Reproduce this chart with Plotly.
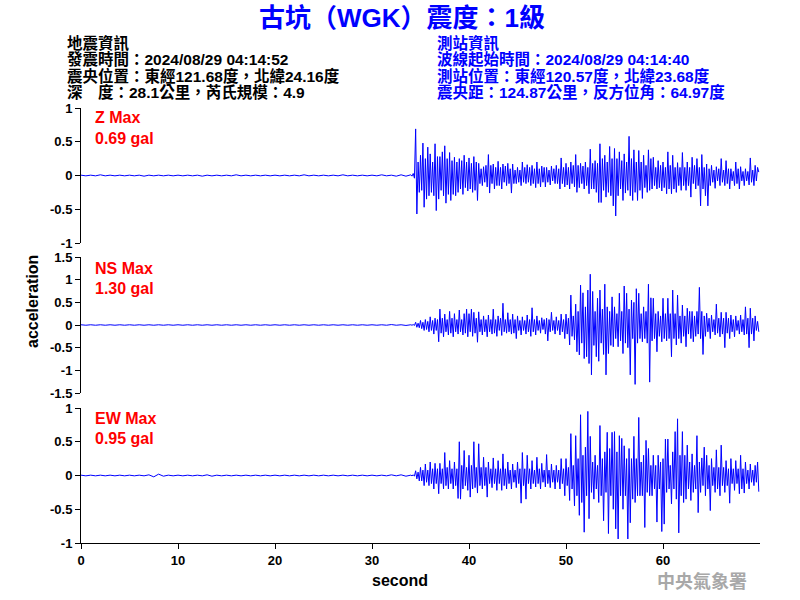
import numpy as np
import plotly.graph_objects as go

# ---------------- data ----------------
t_pre = np.arange(68) * 0.5           # 0 .. 33.5 s
t_evt = 34 + np.arange(288) * 0.125   # 34 .. 69.875 s

z_pre = [0.005,-0.005,0.005,-0.005,0.01,-0.005,0.005,-0.005,0.005,-0.005,
         0.005,-0.005,0.005,-0.01,0.005,-0.005,0.005,-0.005,0.005,-0.005,
         0.005,-0.005,0.005,-0.005,0.005,-0.01,0.005,-0.005,0.005,-0.005,
         0.005,-0.005,0.01,-0.005,0.005,-0.005,0.005,-0.005,0.005,-0.005,
         0.005,-0.005,0.005,-0.005,0.005,-0.005,0.01,-0.005,0.005,-0.005,
         0.005,-0.005,0.005,-0.005,0.01,-0.005,0.005,-0.005,0.005,-0.005,
         0.005,-0.005,0.01,-0.005,0.005,-0.01,0.01,-0.01]
z_evt = [
    0.01,-0.01,0.03,-0.04,0.69,-0.57,0.20,-0.25,
    0.30,-0.22,0.48,-0.47,0.25,-0.35,0.42,-0.30,
    0.32,-0.25,0.20,-0.30,0.47,-0.52,0.28,-0.35,
    0.28,-0.22,0.35,-0.30,0.44,-0.41,0.25,-0.28,
    0.34,-0.37,0.22,-0.28,0.27,-0.30,0.20,-0.25,
    0.25,-0.20,0.22,-0.28,0.30,-0.18,0.20,-0.23,
    0.26,-0.20,0.18,-0.25,0.28,-0.22,0.20,-0.37,
    0.18,-0.12,0.10,-0.15,0.13,-0.10,0.15,-0.17,
    0.31,-0.26,0.15,-0.12,0.17,-0.20,0.12,-0.15,
    0.21,-0.15,0.12,-0.20,0.17,-0.10,0.14,-0.15,
    0.18,-0.12,0.10,-0.26,0.17,-0.12,0.08,-0.12,
    0.12,-0.10,0.08,-0.15,0.20,-0.10,0.12,-0.12,
    0.16,-0.10,0.12,-0.15,0.15,-0.12,0.10,-0.18,
    0.20,-0.12,0.10,-0.17,0.14,-0.10,0.12,-0.17,
    0.12,-0.10,0.08,-0.14,0.14,-0.08,0.10,-0.12,
    0.15,-0.12,0.10,-0.20,0.26,-0.12,0.12,-0.17,
    0.18,-0.14,0.12,-0.20,0.20,-0.12,0.15,-0.17,
    0.31,-0.25,0.15,-0.18,0.18,-0.12,0.14,-0.20,
    0.20,-0.15,0.12,-0.27,0.39,-0.20,0.18,-0.20,
    0.22,-0.25,0.18,-0.40,0.47,-0.40,0.25,-0.22,
    0.30,-0.32,0.20,-0.25,0.43,-0.30,0.25,-0.45,
    0.40,-0.60,0.25,-0.30,0.35,-0.20,0.22,-0.37,
    0.32,-0.26,0.20,-0.22,0.58,-0.30,0.25,-0.37,
    0.38,-0.25,0.20,-0.37,0.37,-0.22,0.20,-0.34,
    0.30,-0.18,0.15,-0.25,0.38,-0.22,0.25,-0.20,
    0.27,-0.15,0.12,-0.20,0.22,-0.18,0.15,-0.23,
    0.20,-0.18,0.12,-0.27,0.35,-0.20,0.15,-0.27,
    0.30,-0.20,0.12,-0.25,0.19,-0.15,0.12,-0.22,
    0.34,-0.15,0.12,-0.22,0.20,-0.15,0.12,-0.32,
    0.27,-0.12,0.15,-0.20,0.25,-0.15,0.12,-0.45,
    0.31,-0.20,0.12,-0.30,0.17,-0.45,0.10,-0.15,
    0.15,-0.10,0.08,-0.19,0.13,-0.08,0.10,-0.15,
    0.25,-0.10,0.08,-0.15,0.22,-0.12,0.10,-0.20,
    0.10,-0.08,0.06,-0.15,0.20,-0.12,0.10,-0.20,
    0.13,-0.08,0.06,-0.15,0.10,-0.08,0.06,-0.14,
    0.26,-0.10,0.08,-0.15,0.15,-0.08,0.12,0.05]

ns_pre = [0.005,-0.005,0.005,-0.005,0.005,-0.005,0.005,-0.005,0.005,-0.005,
          0.005,-0.005,0.005,-0.005,0.005,-0.005,0.005,-0.005,0.005,-0.005,
          0.005,-0.005,0.005,-0.005,0.005,-0.005,0.005,-0.005,0.005,-0.005,
          0.005,-0.005,0.005,-0.005,0.005,-0.005,0.005,-0.005,0.005,-0.005,
          0.005,-0.005,0.005,-0.005,0.005,-0.005,0.005,-0.005,0.005,-0.005,
          0.005,-0.005,0.005,-0.005,0.005,-0.005,0.005,-0.005,0.005,-0.005,
          0.005,-0.005,0.005,-0.005,0.01,-0.005,0.005,-0.01]
ns_evt = [
    0.005,-0.005,0.01,-0.01,0.06,-0.05,0.04,-0.06,
    0.10,-0.08,0.06,-0.12,0.12,-0.10,0.08,-0.15,
    0.18,-0.12,0.10,-0.20,0.15,-0.12,0.12,-0.37,
    0.35,-0.18,0.15,-0.26,0.24,-0.15,0.12,-0.22,
    0.30,-0.18,0.15,-0.26,0.25,-0.15,0.12,-0.20,
    0.33,-0.15,0.12,-0.22,0.25,-0.18,0.35,-0.26,
    0.25,-0.15,0.35,-0.25,0.28,-0.18,0.15,-0.38,
    0.29,-0.15,0.12,-0.22,0.20,-0.15,0.12,-0.26,
    0.22,-0.15,0.12,-0.20,0.35,-0.18,0.12,-0.25,
    0.20,-0.12,0.15,-0.23,0.48,-0.15,0.12,-0.18,
    0.27,-0.15,0.12,-0.20,0.24,-0.18,0.12,-0.30,
    0.20,-0.12,0.10,-0.22,0.18,-0.12,0.10,-0.20,
    0.22,-0.15,0.12,-0.25,0.38,-0.15,0.12,-0.22,
    0.20,-0.12,0.10,-0.18,0.16,-0.10,0.12,-0.20,
    0.15,-0.35,0.12,-0.15,0.28,-0.12,0.10,-0.20,
    0.18,-0.12,0.10,-0.22,0.24,-0.15,0.12,-0.30,
    0.24,-0.20,0.15,-0.44,0.66,-0.25,0.20,-0.33,
    0.46,-0.59,0.30,-0.66,0.88,-0.40,0.71,-0.74,
    0.40,-0.70,0.77,-0.85,1.12,-1.10,0.74,-0.45,
    0.30,-0.70,0.59,-0.80,0.77,-0.40,0.35,-0.65,
    0.90,-1.10,0.40,-0.63,0.30,-0.45,0.62,-0.48,
    0.40,-0.30,0.25,-0.48,0.70,-0.35,0.30,-0.63,
    0.86,-0.40,0.70,-0.50,0.35,-1.10,0.55,-0.30,
    0.50,-1.31,0.80,-0.40,0.70,-0.30,0.25,-0.37,
    0.40,-0.30,0.30,-0.40,0.90,-1.26,0.60,-0.35,
    0.59,-0.30,0.25,-0.59,0.30,-0.25,0.20,-0.37,
    0.59,-0.30,0.25,-0.35,0.59,-0.30,0.25,-0.70,
    0.77,-0.30,0.25,-0.44,0.66,-0.30,0.20,-0.40,
    0.44,-0.25,0.20,-0.48,0.37,-0.20,0.30,-0.30,
    0.30,-0.37,0.20,-0.25,0.30,-0.20,0.83,-0.30,
    0.30,-0.65,0.20,-0.25,0.26,-0.15,0.15,-0.30,
    0.22,-0.15,0.12,-0.22,0.46,-0.18,0.15,-0.26,
    0.28,-0.20,0.15,-0.50,0.28,-0.18,0.15,-0.30,
    0.22,-0.15,0.12,-0.26,0.20,-0.12,0.10,-0.20,
    0.22,-0.15,0.12,-0.22,0.40,-0.20,0.15,-0.50,
    0.37,-0.20,0.15,-0.35,0.20,-0.12,0.08,-0.15]

ew_pre = [0.005,-0.005,0.005,-0.005,0.005,-0.005,0.005,-0.005,0.005,-0.005,
          0.005,-0.005,0.005,-0.005,0.01,-0.02,0.02,-0.01,0.005,-0.005,
          0.005,-0.005,0.005,-0.005,0.005,-0.005,0.01,-0.01,0.005,-0.005,
          0.005,-0.005,0.005,-0.005,0.005,-0.005,0.005,-0.005,0.005,-0.005,
          0.005,-0.005,0.005,-0.005,0.005,-0.005,0.005,-0.005,0.005,-0.005,
          0.005,-0.005,0.005,-0.005,0.005,-0.005,0.005,-0.005,0.005,-0.005,
          0.005,-0.005,0.005,-0.005,0.01,-0.005,0.01,-0.01]
ew_evt = [
    0.005,-0.005,0.01,-0.01,0.07,-0.05,0.05,-0.08,
    0.12,-0.08,0.08,-0.15,0.17,-0.10,0.08,-0.15,
    0.20,-0.12,0.10,-0.20,0.18,-0.12,0.10,-0.27,
    0.18,-0.12,0.10,-0.20,0.34,-0.15,0.12,-0.20,
    0.22,-0.12,0.10,-0.20,0.20,-0.15,0.10,-0.34,
    0.50,-0.35,0.15,-0.20,0.37,-0.15,0.12,-0.22,
    0.30,-0.32,0.15,-0.20,0.50,-0.18,0.12,-0.26,
    0.47,-0.15,0.12,-0.20,0.27,-0.15,0.12,-0.32,
    0.20,-0.12,0.10,-0.18,0.26,-0.12,0.10,-0.22,
    0.22,-0.12,0.10,-0.22,0.32,-0.15,0.10,-0.20,
    0.20,-0.12,0.08,-0.20,0.17,-0.10,0.08,-0.18,
    0.20,-0.12,0.10,-0.41,0.34,-0.15,0.10,-0.35,
    0.30,-0.12,0.10,-0.20,0.22,-0.12,0.08,-0.17,
    0.27,-0.12,0.10,-0.20,0.18,-0.10,0.08,-0.17,
    0.31,-0.12,0.08,-0.18,0.17,-0.10,0.08,-0.20,
    0.15,-0.10,0.08,-0.20,0.25,-0.12,0.10,-0.30,
    0.25,-0.15,0.12,-0.37,0.62,-0.20,0.15,-0.45,
    0.59,-0.30,0.25,-0.59,0.90,-0.40,0.30,-0.84,
    0.42,-0.30,0.95,-0.64,0.58,-0.25,0.20,-0.35,
    0.30,-0.20,0.15,-0.40,0.74,-0.30,0.25,-0.67,
    0.35,-0.25,0.64,-0.86,0.40,-0.30,0.64,-0.50,
    0.65,-0.79,0.35,-0.94,0.59,-0.30,0.55,-0.50,
    0.44,-0.30,0.25,-0.94,0.40,-0.70,0.25,-0.35,
    0.58,-0.40,0.25,-0.30,0.86,-0.30,0.20,-0.30,
    0.30,-0.77,0.52,-0.25,0.40,-0.30,0.15,-0.30,
    0.30,-0.20,0.15,-0.69,0.30,-0.20,0.20,-0.83,
    0.25,-0.72,0.54,-0.25,0.54,-0.20,0.15,-0.42,
    0.35,-0.20,0.65,-0.35,0.84,-0.85,0.30,-0.30,
    0.65,-0.40,0.30,-0.35,0.45,-0.20,0.20,-0.37,
    0.32,-0.25,0.15,-0.20,0.59,-0.55,0.20,-0.25,
    0.26,-0.15,0.42,-0.30,0.30,-0.20,0.15,-0.52,
    0.25,-0.15,0.12,-0.25,0.38,-0.20,0.12,-0.30,
    0.45,-0.15,0.12,-0.25,0.22,-0.15,0.10,-0.41,
    0.25,-0.12,0.10,-0.22,0.22,-0.12,0.10,-0.27,
    0.30,-0.20,0.10,-0.26,0.20,-0.12,0.08,-0.20,
    0.17,-0.10,0.08,-0.15,0.15,-0.10,0.20,-0.24]

components = ["Z", "NS", "EW"]
max_gal = ["0.69", "1.30", "0.95"]
y_ranges = [[-1, 1], [-1.5, 1.5], [-1, 1]]
y_ticks = [[-1, -0.5, 0, 0.5, 1], [-1.5, -1, -0.5, 0, 0.5, 1, 1.5], [-1, -0.5, 0, 0.5, 1]]
x_ticks = [0, 10, 20, 30, 40, 50, 60]

title_text = "古坑（WGK）震度：1級"
left_info = ["地震資訊", "發震時間：2024/08/29 04:14:52",
             "震央位置：東經121.68度，北緯24.16度", "深　度：28.1公里，芮氏規模：4.9"]
right_info = ["測站資訊", "波線起始時間：2024/08/29 04:14:40",
              "測站位置：東經120.57度，北緯23.68度", "震央距：124.87公里，反方位角：64.97度"]

# ---------------- figure ----------------
t = np.concatenate([t_pre, t_evt])
series = [z_pre + z_evt, ns_pre + ns_evt, ew_pre + ew_evt]
yaxes = ["y", "y2", "y3"]

L, R, T, B = 81, 40, 108, 57
W, H = 800, 600
PW, PH = W - L - R, H - T - B

def px(x):
    return (x - L) / PW

def py(y):
    return (H - B - y) / PH

domains = [[py(243), 1.0], [py(393), py(257)], [0.0, py(408)]]

fig = go.Figure()
for vals, ya in zip(series, yaxes):
    fig.add_trace(go.Scatter(x=t, y=vals, mode="lines", yaxis=ya, xaxis="x",
                             line=dict(color="#0000ff", width=1), hoverinfo="skip"))

tickfont = dict(family="Arial", size=13, color="black", weight="bold")
layout = dict(
    width=W, height=H, showlegend=False,
    paper_bgcolor="white", plot_bgcolor="white",
    margin=dict(l=L, r=R, t=T, b=B, pad=0),
    xaxis=dict(domain=[0, 1], range=[0, 70], anchor="y3", showline=True,
               linecolor="black", linewidth=1, ticks="outside", ticklen=5,
               tickcolor="black", tickvals=x_ticks, tickfont=tickfont,
               showgrid=False, zeroline=False),
)
for i, ya in enumerate(yaxes):
    key = "yaxis" if i == 0 else f"yaxis{i+1}"
    layout[key] = dict(domain=domains[i], range=y_ranges[i], anchor="x",
                       showline=True, linecolor="black", linewidth=1,
                       ticks="outside", ticklen=5, tickcolor="black",
                       tickvals=y_ticks[i], ticktext=[f"{v:g}" for v in y_ticks[i]],
                       tickfont=tickfont, showgrid=False, zeroline=False)
fig.update_layout(**layout)

ann = []
def add(text, x, y, size, color, xanchor="left", family="Arial, Noto Sans CJK TC",
        weight="bold", angle=0):
    ann.append(dict(text=text, x=px(x), y=py(y), xref="paper", yref="paper",
                    xanchor=xanchor, yanchor="middle", showarrow=False,
                    textangle=angle,
                    font=dict(family=family, size=size, color=color, weight=weight)))

header_y = [42.5, 59.5, 75.5, 91.5]
add(title_text, 402, 18, 26, "#0000ff", xanchor="center")
for i, line in enumerate(left_info):
    add(line, 65, header_y[i], 15.5, "black")
for i, line in enumerate(right_info):
    add(line, 435, header_y[i], 15.5, "#0000ff")

label_y = [(118, 138), (268, 288), (418, 438)]
for comp, mx, (y1, y2) in zip(components, max_gal, label_y):
    add(f"{comp} Max", 93, y1, 16, "red")
    add(f"{mx} gal", 93, y2, 16, "red")

add("acceleration", 32, 302, 16, "black", xanchor="center", angle=-90)
add("second", 400, 580, 16, "black", xanchor="center")
add("中央氣象署", 702, 580, 18, "#a8a8a8", xanchor="center",
    family="Noto Sans CJK TC")

fig.update_layout(annotations=ann)
fig.write_html("out.html")
